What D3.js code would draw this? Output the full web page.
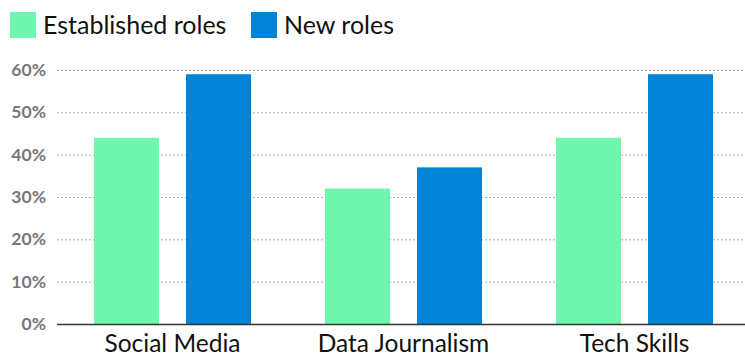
<!DOCTYPE html>
<html><head><meta charset="utf-8">
<script src="https://cdn.jsdelivr.net/npm/d3@7"></script>
<style>body{margin:0;background:#fff}svg{display:block}</style>
</head><body><svg id="c" width="745" height="356"></svg>
<script>
const categories = ["Social Media", "Data Journalism", "Tech Skills"];
const seriesNames = ["Established roles", "New roles"];
const established = [44, 32, 44];
const newRoles = [59, 37, 59];
const yTicks = [0, 10, 20, 30, 40, 50, 60];
const colors = ["#6ff7b0", "#0383d6"];

const svg = d3.select("#c");
const font = "Lato, 'Open Sans', sans-serif";
const x0 = d3.scaleBand().domain(categories).range([57, 750]).paddingInner(0).paddingOuter(0);
const x1 = d3.scaleBand().domain(seriesNames).range([37, 194]).paddingInner(27/92).paddingOuter(0);
const y = d3.scaleLinear().domain([0, 60]).range([324, 70]);

// grid
svg.append("g").selectAll("line").data(yTicks.filter(d => d > 0)).join("line")
  .attr("x1", 57).attr("x2", 745).attr("y1", d => y(d) + 0.5).attr("y2", d => y(d) + 0.5)
  .attr("stroke", "#aaa").attr("stroke-width", 1).attr("stroke-dasharray", "2,2");

// y labels
const yAxis = d3.axisLeft(y).tickValues(yTicks).tickFormat(d => d + "%").tickSize(0).tickPadding(0);
const ga = svg.append("g").attr("transform", "translate(46,0)").call(yAxis);
ga.select(".domain").remove();
ga.selectAll("text").attr("fill", "#777").attr("font-size", 17.5).attr("font-weight", "bold")
  .attr("font-family", font);

// bars
const data = categories.map((c, i) => ({c, vals: [established[i], newRoles[i]]}));
const groups = svg.append("g").selectAll("g").data(data).join("g")
  .attr("transform", d => `translate(${x0(d.c)},0)`);
groups.selectAll("rect").data(d => d.vals.map((v, j) => ({name: seriesNames[j], v, j}))).join("rect")
  .attr("x", d => x1(d.name)).attr("width", x1.bandwidth())
  .attr("y", d => y(d.v)).attr("height", d => y(0) - y(d.v))
  .attr("fill", d => colors[d.j]);

// x axis
svg.append("line").attr("x1", 57).attr("x2", 745).attr("y1", y(0) + 0.5).attr("y2", y(0) + 0.5)
  .attr("stroke", "#333").attr("stroke-width", 1.5);
const xAxis = d3.axisBottom(x0).tickSize(0).tickPadding(0);
const gx = svg.append("g").attr("transform", "translate(0,352)").call(xAxis);
gx.select(".domain").remove();
gx.selectAll("text").attr("dy", 0).attr("fill", "#111").attr("font-size", 24.5)
  .attr("font-family", font);

// legend
const legX = [10, 251];
const lg = svg.append("g").selectAll("g").data(seriesNames).join("g")
  .attr("transform", (d, i) => `translate(${legX[i]},12)`);
lg.append("rect").attr("width", 26).attr("height", 26).attr("fill", (d, i) => colors[i]);
lg.append("text").attr("x", 33).attr("y", 22).text(d => d).attr("font-size", 25)
  .attr("fill", "#111").attr("font-family", font);
</script></body></html>
